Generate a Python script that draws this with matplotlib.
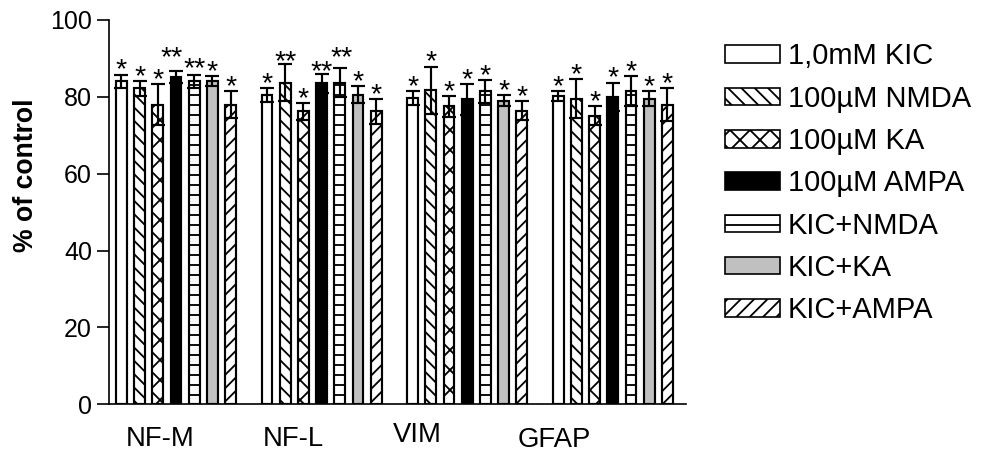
import matplotlib
matplotlib.use("Agg")
import matplotlib.pyplot as plt
import matplotlib.transforms as mtransforms
from matplotlib.patches import Patch
import numpy as np

categories = ["NF-M", "NF-L", "VIM", "GFAP"]
series = ["1,0mM KIC", "100\u00b5M NMDA", "100\u00b5M KA", "100\u00b5M AMPA",
          "KIC+NMDA", "KIC+KA", "KIC+AMPA"]

kic = [84.0, 80.5, 79.6, 80.3]
nmda = [82.2, 83.7, 81.7, 79.5]
ka = [78.0, 76.2, 77.5, 75.1]
ampa = [85.1, 83.5, 79.4, 80.0]
kic_nmda = [84.0, 83.7, 81.4, 81.6]
kic_ka = [84.0, 80.6, 79.0, 79.5]
kic_ampa = [78.0, 76.2, 76.4, 78.0]

kic_err = [1.8, 1.8, 1.8, 1.3]
nmda_err = [2.0, 4.9, 6.2, 5.1]
ka_err = [5.4, 2.1, 2.8, 2.5]
ampa_err = [1.6, 2.5, 4.0, 3.7]
kic_nmda_err = [1.8, 3.8, 3.0, 3.9]
kic_ka_err = [1.3, 2.1, 1.5, 1.9]
kic_ampa_err = [3.6, 3.3, 2.5, 4.2]

kic_sig = ["*", "*", "*", "*"]
nmda_sig = ["*", "**", "*", "*"]
ka_sig = ["*", "*", "*", "*"]
ampa_sig = ["**", "**", "*", "*"]
kic_nmda_sig = ["**", "**", "*", "*"]
kic_ka_sig = ["*", "*", "*", "*"]
kic_ampa_sig = ["*", "*", "*", "*"]

values = [kic, nmda, ka, ampa, kic_nmda, kic_ka, kic_ampa]
errors = [kic_err, nmda_err, ka_err, ampa_err, kic_nmda_err, kic_ka_err, kic_ampa_err]
sigs = [kic_sig, nmda_sig, ka_sig, ampa_sig, kic_nmda_sig, kic_ka_sig, kic_ampa_sig]

# styles
facecolors = ["white", "white", "white", "black", "white", "#c0c0c0", "white"]
hatches = [None, "\\\\\\", "xx", None, "--", None, "///"]

# layout
group_stride = 8
bar_width = 0.6
label_pos = [2.12, 9.43, 16.25, 23.8]
label_dy = [0, 0, 4, -1]  # pixel nudges
# (series, category) -> (dx px, dy px) nudges of significance marks
sig_nudge = {(3, 0): (-4, 9), (4, 0): (0, 1), (4, 1): (2, 6), (1, 1): (0, -2), (3, 1): (0, -2)}

plt.rcParams["font.family"] = ["Liberation Sans", "DejaVu Sans"]
plt.rcParams["hatch.linewidth"] = 1.1

DPI = 120
PT = 72 / DPI
fig = plt.figure(figsize=(988 / DPI, 458 / DPI), dpi=DPI)
ax = fig.add_axes([109 / 988, 1 - 404.3 / 458, 577 / 988, (404.3 - 20) / 458])

base = np.arange(len(categories)) * group_stride
for i, (vals, errs, sg) in enumerate(zip(values, errors, sigs)):
    x = base + i
    ax.bar(x, vals, width=bar_width, color=facecolors[i], edgecolor="black",
           hatch=hatches[i], linewidth=1.3, zorder=2)
    ax.errorbar(x, vals, yerr=errs, fmt="none", ecolor="black", elinewidth=1.3,
                capsize=4.2, capthick=1.3, zorder=3)
    for j, (xi, v, e, s) in enumerate(zip(x, vals, errs, sg)):
        dx, dy = sig_nudge.get((i, j), (0, 0))
        ax.annotate(s, (xi, v + e), xytext=(dx * PT, (dy - 3) * PT),
                    textcoords="offset points",
                    ha="center", va="baseline", fontsize=17)

ax.set_xlim(-0.68, 31.02)
ax.set_ylim(0, 100)
ax.set_yticks([0, 20, 40, 60, 80, 100])
ax.tick_params(axis="y", length=7.2, width=1.0, pad=3, labelsize=15, direction="out")
ax.set_xticks(label_pos)
ax.set_xticklabels(categories)
ax.tick_params(axis="x", length=0, pad=13, labelsize=16.5)
for lab, dy in zip(ax.get_xticklabels(), label_dy):
    lab.set_transform(lab.get_transform() +
                      mtransforms.ScaledTranslation(0, dy / DPI, fig.dpi_scale_trans))

for side in ["top", "right"]:
    ax.spines[side].set_visible(False)
for side in ["left", "bottom"]:
    ax.spines[side].set_linewidth(1.0)

ax.set_ylabel("% of control", fontsize=16, fontweight="bold")
ax.yaxis.set_label_coords(-0.122, 0.597)

handles = [Patch(facecolor=facecolors[i], edgecolor="black", hatch=hatches[i], linewidth=1.0)
           for i in range(len(series))]
fig.legend(handles, series, loc="upper left", bbox_to_anchor=(725 / 988, 1 - 42.5 / 458),
           frameon=False, fontsize=17.5, handlelength=1.9, handleheight=0.55,
           handletextpad=0.25, labelspacing=0.49, borderpad=0, borderaxespad=0)

fig.savefig("out.png", dpi=DPI)
